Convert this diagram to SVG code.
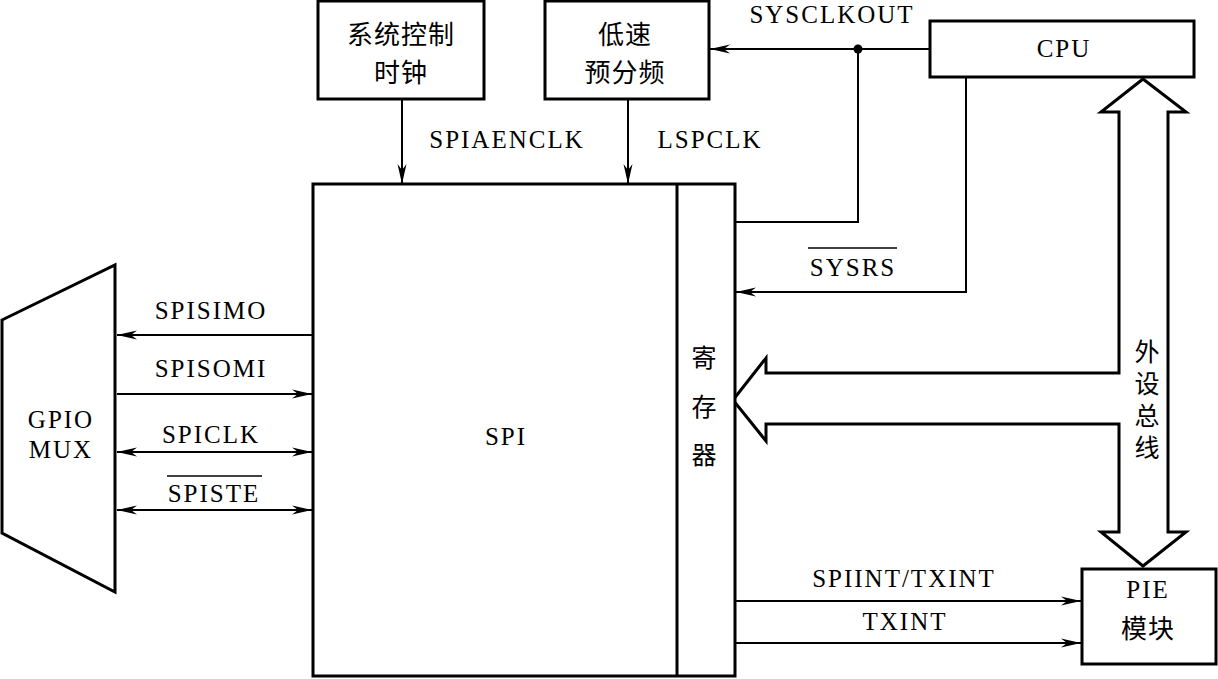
<svg xmlns="http://www.w3.org/2000/svg" width="1218" height="679" viewBox="0 0 1218 679">
<style>
.box{fill:#fff;stroke:#000;stroke-width:3}
.ln{fill:none;stroke:#000;stroke-width:2}
.lat{font-size:25px;fill:#000;text-anchor:middle;letter-spacing:2px}
.cjk{font-family:'Noto Sans CJK SC', 'Noto Sans CJK TC', sans-serif;font-size:26px;fill:#000;text-anchor:middle;dominant-baseline:central;letter-spacing:1px}
.cjkv{font-family:'Noto Sans CJK SC', 'Noto Sans CJK TC', sans-serif;font-size:25px;fill:#000;text-anchor:start;writing-mode:tb}
</style>
<defs>
<marker id="ah" markerUnits="userSpaceOnUse" markerWidth="24" markerHeight="12" viewBox="-22 -6 24 12" refX="0" refY="0" orient="auto-start-reverse">
<path d="M0,0 L-20,-4.5 L-14,0 L-20,4.5 Z" fill="#000"/>
</marker>
</defs>
<rect width="1218" height="679" fill="#fff"/>

<g id="connectors">
<line class="ln" x1="402" y1="99" x2="402" y2="184" marker-end="url(#ah)"/>
<line class="ln" x1="628" y1="99" x2="628" y2="184" marker-end="url(#ah)"/>
<line class="ln" x1="930" y1="49" x2="710" y2="49" marker-end="url(#ah)"/>
<circle cx="858" cy="49" r="4.5" fill="#000"/>
<polyline class="ln" points="858,49 858,222 735,222"/>
<polyline class="ln" points="966,77 966,292 736,292" marker-end="url(#ah)"/>
<line class="ln" x1="313" y1="335" x2="117" y2="335" marker-end="url(#ah)"/>
<line class="ln" x1="117" y1="394" x2="312" y2="394" marker-end="url(#ah)"/>
<line class="ln" x1="117" y1="452" x2="312" y2="452" marker-start="url(#ah)" marker-end="url(#ah)"/>
<line class="ln" x1="117" y1="510" x2="312" y2="510" marker-start="url(#ah)" marker-end="url(#ah)"/>
<line class="ln" x1="735" y1="601" x2="1081" y2="601" marker-end="url(#ah)"/>
<line class="ln" x1="735" y1="643" x2="1081" y2="643" marker-end="url(#ah)"/>
<path class="box" d="M1143,79 L1186,112 L1168,112 L1168,532 L1186,532 L1143,566 L1101,532 L1119,532 L1119,424 L766,424 L766,441 L733,400 L766,358 L766,373 L1119,373 L1119,112 L1101,112 Z"/>
</g>

<g id="sysclk">
<rect class="box" x="318" y="1" width="166" height="98"/>
<text class="cjk" x="401" y="32">系统控制</text>
<text class="cjk" x="401" y="70">时钟</text>
</g>
<g id="lspre">
<rect class="box" x="545" y="1" width="164" height="98"/>
<text class="cjk" x="625" y="32">低速</text>
<text class="cjk" x="625" y="70">预分频</text>
</g>

<g font-family="Liberation Serif, Times New Roman, DejaVu Serif, serif">
<g id="cpu">
<rect class="box" x="930" y="21" width="264" height="56"/>
<text class="lat" x="1064" y="57">CPU</text>
</g>
<g id="spi">
<rect class="box" x="313" y="184" width="422" height="492"/>
<line x1="677" y1="184" x2="677" y2="676" stroke="#000" stroke-width="3"/>
<text class="lat" x="506" y="445">SPI</text>
</g>
<g id="gpio">
<polygon class="box" points="2,320 115,265 115,592 2,533"/>
<text class="lat" x="61" y="428">GPIO</text>
<text class="lat" x="61" y="458">MUX</text>
</g>
<g id="pie">
<rect class="box" x="1082" y="569" width="134" height="95"/>
<text class="lat" x="1148" y="598">PIE</text>
<text class="cjk" x="1148" y="626">模块</text>
</g>
<g id="labels">
<text class="lat" x="507" y="148">SPIAENCLK</text>
<text class="lat" x="710" y="148">LSPCLK</text>
<text class="lat" x="832" y="23">SYSCLKOUT</text>
<text class="lat" x="853" y="276">SYSRS</text>
<line x1="808" y1="248" x2="897" y2="248" stroke="#000" stroke-width="1.5"/>
<text class="lat" x="211" y="319">SPISIMO</text>
<text class="lat" x="211" y="377">SPISOMI</text>
<text class="lat" x="211" y="443">SPICLK</text>
<text class="lat" x="214" y="502">SPISTE</text>
<line x1="167" y1="476" x2="262" y2="476" stroke="#000" stroke-width="1.5"/>
<text class="lat" x="904" y="587">SPIINT/TXINT</text>
<text class="lat" x="905" y="630">TXINT</text>
</g>
</g>

<g id="reg">
<text class="cjkv" x="704" y="345" letter-spacing="23.5">寄存器</text>
</g>
<g id="bus-label">
<text class="cjkv" x="1147" y="339" letter-spacing="7">外设总线</text>
</g>
</svg>
